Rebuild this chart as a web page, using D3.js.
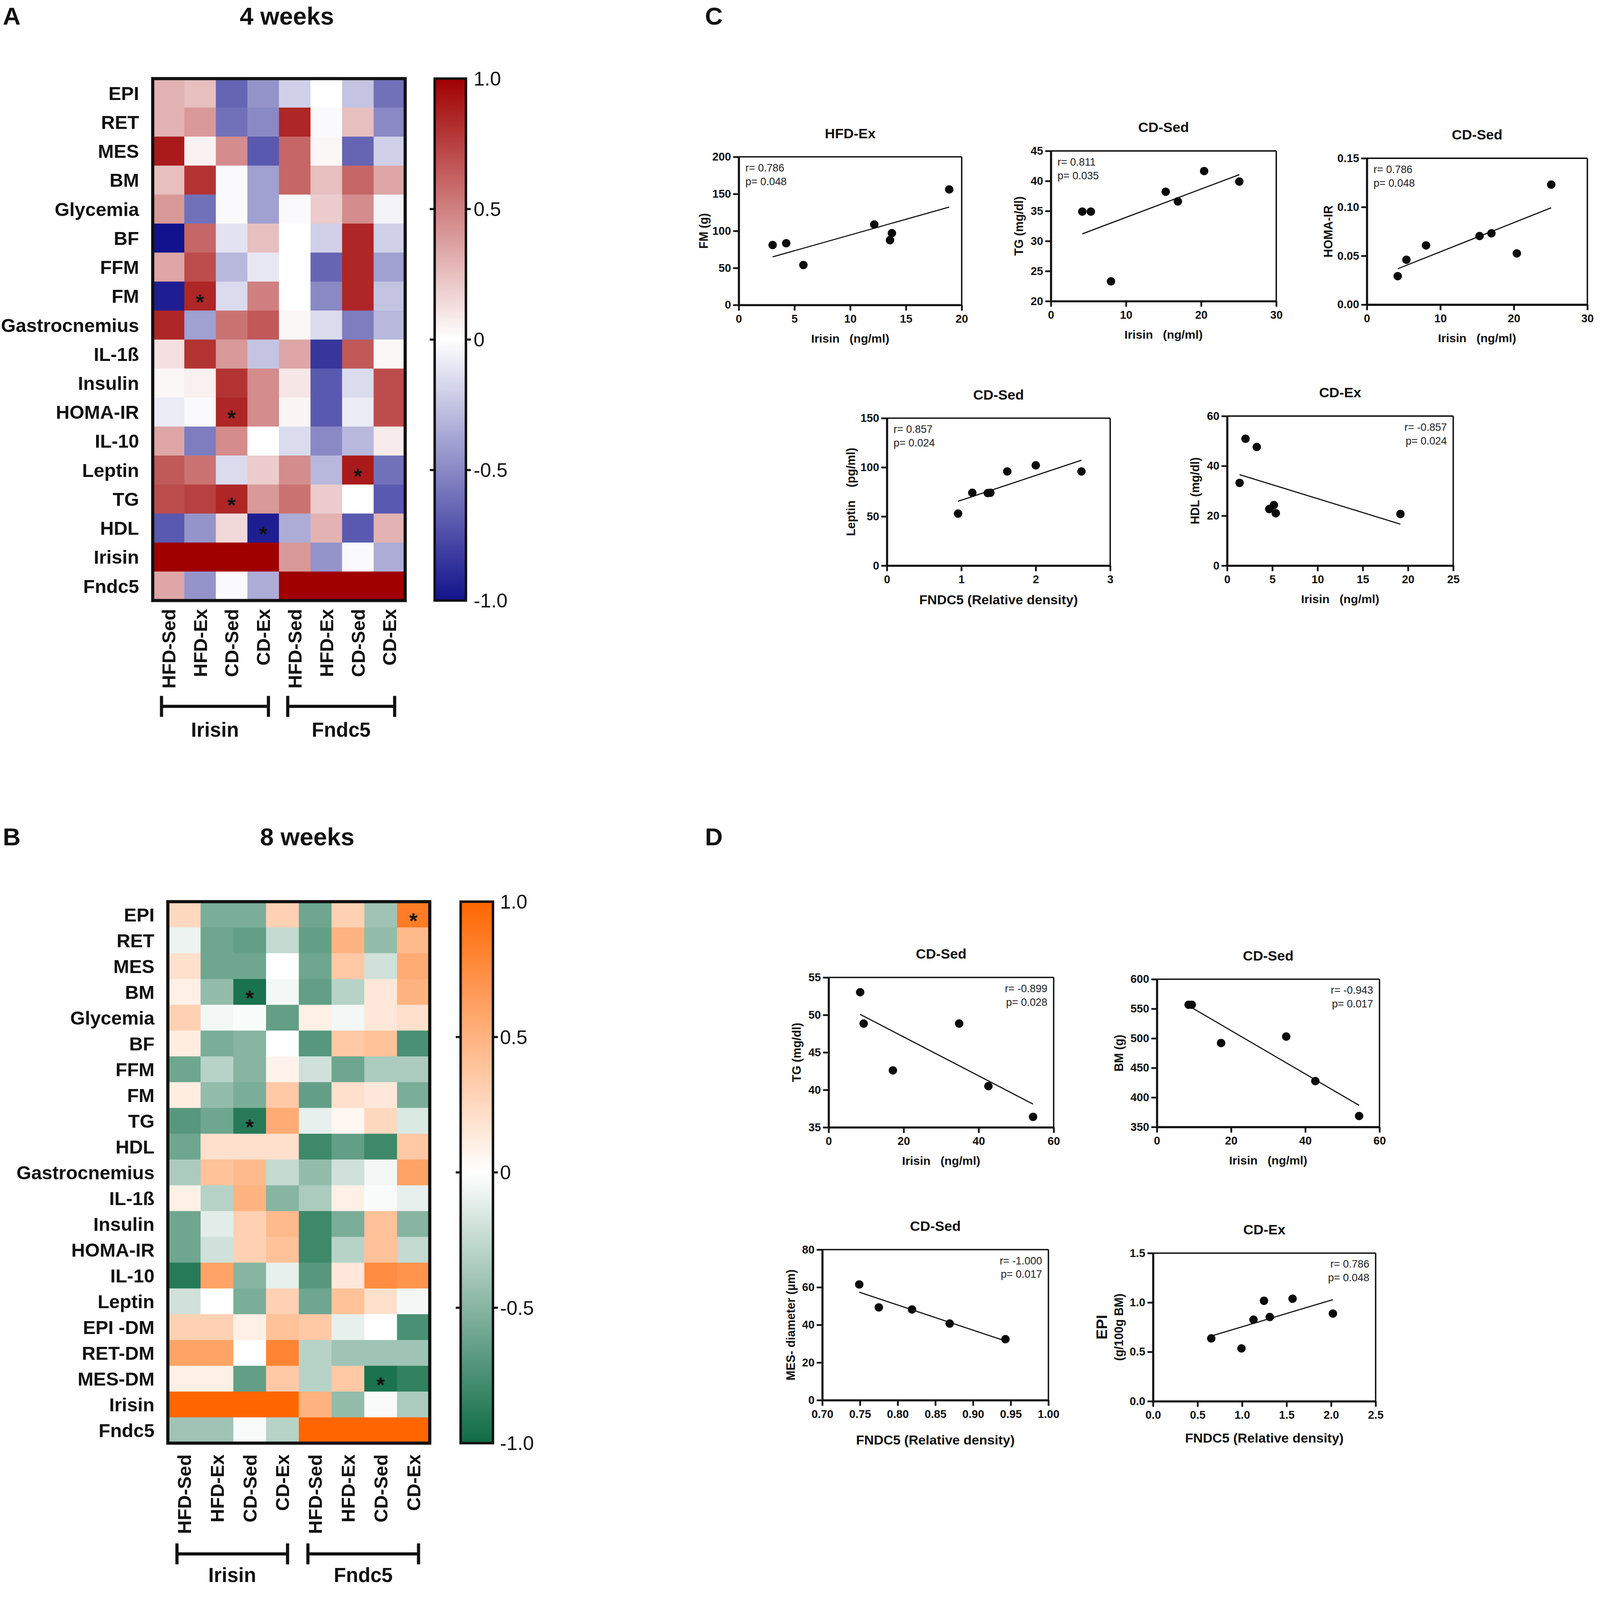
<!DOCTYPE html>
<html><head><meta charset="utf-8">
<script src="https://cdn.jsdelivr.net/npm/d3@7"></script>
<style>
html,body{margin:0;padding:0;background:#fff;overflow:hidden}
#fig{display:block;width:100vw;height:100vh}
text{font-family:"Liberation Sans",Arial,Helvetica,sans-serif}
</style></head>
<body><svg id="fig" viewBox="0 0 4557 4580" preserveAspectRatio="none" xmlns="http://www.w3.org/2000/svg"></svg>
<script>
// ================= DATA =================
const groupCols = ["HFD-Sed","HFD-Ex","CD-Sed","CD-Ex","HFD-Sed","HFD-Ex","CD-Sed","CD-Ex"];
const groupNames = ["Irisin","Fndc5"];
const colorbarTicks = [1, 0.5, 0, -0.5, -1];
const colorbarTickLabels = ["1.0","0.5","0","-0.5","-1.0"];

const weeks4Rows = ["EPI","RET","MES","BM","Glycemia","BF","FFM","FM","Gastrocnemius","IL-1ß","Insulin","HOMA-IR","IL-10","Leptin","TG","HDL","Irisin","Fndc5"];
const weeks4Values = [
  [ 0.30, 0.25,-0.65,-0.45,-0.20, 0.00,-0.25,-0.60],
  [ 0.30, 0.40,-0.60,-0.50, 0.85,-0.02, 0.25,-0.50],
  [ 0.90, 0.05, 0.45,-0.70, 0.60, 0.03,-0.65,-0.20],
  [ 0.25, 0.80,-0.02,-0.40, 0.60, 0.25, 0.60, 0.35],
  [ 0.40,-0.60,-0.02,-0.40,-0.02, 0.20, 0.45,-0.05],
  [-1.00, 0.60,-0.12, 0.25, 0.00,-0.20, 0.85,-0.20],
  [ 0.35, 0.70,-0.30,-0.10, 0.00,-0.65, 0.85,-0.40],
  [-0.95, 0.85,-0.15, 0.50, 0.00,-0.50, 0.85,-0.25],
  [ 0.85,-0.40, 0.55, 0.65, 0.03,-0.15,-0.55,-0.30],
  [ 0.12, 0.80, 0.40,-0.25, 0.35,-0.85, 0.65, 0.03],
  [ 0.03, 0.06, 0.80, 0.45, 0.10,-0.70,-0.15, 0.70],
  [-0.08,-0.02, 0.85, 0.45, 0.04,-0.70,-0.08, 0.70],
  [ 0.35,-0.55, 0.45, 0.00,-0.15,-0.50,-0.30, 0.08],
  [ 0.65, 0.55,-0.15, 0.20, 0.45,-0.30, 0.90,-0.60],
  [ 0.70, 0.75, 0.85, 0.40, 0.55, 0.20, 0.00,-0.70],
  [-0.70,-0.45, 0.15,-0.95,-0.35, 0.30,-0.70, 0.30],
  [ 1.00, 1.00, 1.00, 1.00, 0.40,-0.45,-0.02,-0.35],
  [ 0.35,-0.45,-0.02,-0.35, 1.00, 1.00, 1.00, 1.00]
];
const weeks4Stars = [[7,1],[11,2],[13,6],[14,2],[15,3]];

const weeks8Rows = ["EPI","RET","MES","BM","Glycemia","BF","FFM","FM","TG","HDL","Gastrocnemius","IL-1ß","Insulin","HOMA-IR","IL-10","Leptin","EPI -DM","RET-DM","MES-DM","Irisin","Fndc5"];
const weeks8Values = [
  [ 0.25,-0.55,-0.55, 0.30,-0.60, 0.30,-0.40, 0.85],
  [-0.08,-0.60,-0.65,-0.25,-0.65, 0.50,-0.45, 0.45],
  [ 0.20,-0.60,-0.60, 0.00,-0.60, 0.35,-0.20, 0.55],
  [ 0.10,-0.45,-0.95,-0.05,-0.65,-0.30, 0.15, 0.50],
  [ 0.30,-0.05,-0.02,-0.65, 0.10,-0.05, 0.15, 0.20],
  [ 0.12,-0.55,-0.50, 0.00,-0.70, 0.35, 0.40,-0.75],
  [-0.60,-0.30,-0.50, 0.08,-0.20,-0.60,-0.35,-0.35],
  [ 0.12,-0.45,-0.55, 0.35,-0.65, 0.20, 0.15,-0.55],
  [-0.70,-0.60,-0.90, 0.55,-0.10, 0.05, 0.25,-0.15],
  [-0.60, 0.20, 0.20, 0.20,-0.80,-0.65,-0.80, 0.35],
  [-0.35, 0.40, 0.45,-0.25,-0.45,-0.20,-0.05, 0.60],
  [ 0.10,-0.30, 0.50,-0.50,-0.35, 0.10,-0.02,-0.10],
  [-0.60,-0.12, 0.30, 0.45,-0.80,-0.55, 0.40,-0.50],
  [-0.60,-0.20, 0.30, 0.40,-0.80,-0.30, 0.40,-0.25],
  [-0.90, 0.60,-0.50,-0.10,-0.70, 0.15, 0.75, 0.70],
  [-0.20, 0.00,-0.55, 0.30,-0.60, 0.40, 0.20,-0.05],
  [ 0.30, 0.30, 0.10, 0.40, 0.35,-0.10, 0.00,-0.75],
  [ 0.60, 0.60, 0.00, 0.80,-0.30,-0.40,-0.40,-0.40],
  [ 0.10, 0.10,-0.65, 0.35,-0.30, 0.35,-0.95,-0.85],
  [ 1.00, 1.00, 1.00, 1.00, 0.50,-0.45,-0.03,-0.35],
  [-0.40,-0.40,-0.03,-0.30, 1.00, 1.00, 1.00, 1.00]
];
const weeks8Stars = [[0,7],[3,2],[8,2],[18,6]];

// scatter series (C)
const hfdExIrisin = [3.04,4.26,5.8,12.16,13.57,13.74,18.88];
const hfdExFM     = [81,83.4,54,108.7,87.5,97,156];
const cdSedIrisinTG = [4.18,5.32,8.0,15.28,16.9,20.4,25.08];
const cdSedTG       = [34.9,34.9,23.3,38.2,36.6,41.65,39.9];
const cdSedIrisinHOMA = [4.2,5.38,8.05,15.33,16.95,20.4,25.08];
const cdSedHOMA       = [0.0292,0.046,0.0607,0.0703,0.0731,0.0525,0.123];
const cdSedFndc5Leptin = [0.956,1.147,1.355,1.39,1.617,2.0,2.614];
const cdSedLeptin      = [52.9,74.1,73.8,74.1,95.8,102,95.8];
const cdExIrisinHDL = [1.38,2.03,3.28,4.66,5.17,5.38,19.16];
const cdExHDL       = [33.2,50.9,47.6,22.7,24.3,21.0,20.7];
// scatter series (D)
const cdSed8IrisinTG = [8.41,9.34,17.13,34.8,42.6,54.5];
const cdSed8TG       = [53.03,48.85,42.6,48.85,40.5,36.4];
const cdSed8IrisinBM = [8.55,9.39,17.3,34.85,42.7,54.5];
const cdSed8BM       = [556.8,556.8,492,503,427.7,368.6];
const cdSed8Fndc5MES = [0.749,0.775,0.819,0.869,0.943];
const cdSed8MES      = [61.5,49.3,48.2,40.7,32.4];
const cdEx8Fndc5EPI = [0.654,0.993,1.128,1.246,1.311,1.567,2.02];
const cdEx8EPI      = [0.636,0.535,0.826,1.017,0.853,1.038,0.888];

// ================= DRAW =================
const svg = d3.select("#fig");
svg.append("rect").attr("width",4557).attr("height",4580).attr("fill","#fff");

function label(t, x, y, size, opts={}) {
  return svg.append("text").attr("x",x).attr("y",y).text(t)
    .attr("font-size",size).attr("font-weight",opts.weight||"bold")
    .attr("text-anchor",opts.anchor||"start").attr("fill","#111");
}

function heatmap(cfg) {
  const g = svg.append("g");
  const x = d3.scaleBand().domain(d3.range(cfg.cols.length)).range([cfg.x0,cfg.x1]);
  const y = d3.scaleBand().domain(d3.range(cfg.rows.length)).range([cfg.y0,cfg.y1]);
  const color = d3.scaleLinear().domain([-1,0,1]).range(cfg.colors).clamp(true);
  cfg.values.forEach((row,ri)=>row.forEach((v,ci)=>{
    g.append("rect").attr("x",x(ci)).attr("y",y(ri))
      .attr("width",x.bandwidth()+0.8).attr("height",y.bandwidth()+0.8)
      .attr("fill",color(v));
  }));
  g.append("rect").attr("x",cfg.x0).attr("y",cfg.y0).attr("width",cfg.x1-cfg.x0).attr("height",cfg.y1-cfg.y0)
    .attr("fill","none").attr("stroke","#111").attr("stroke-width",9);
  cfg.stars.forEach(([ri,ci])=>{
    g.append("text").attr("x",x(ci)+x.bandwidth()/2).attr("y",y(ri)+y.bandwidth()/2+0.62*62)
      .attr("text-anchor","middle").attr("font-size",62).attr("font-weight","bold").attr("fill","#111").text("*");
  });
  cfg.rows.forEach((r,ri)=>{
    g.append("text").attr("x",cfg.rowLabelX).attr("y",y(ri)+y.bandwidth()/2).attr("dy","0.36em")
      .attr("text-anchor","end").attr("font-size",54).attr("font-weight","bold").attr("fill","#111").text(r);
  });
  cfg.cols.forEach((c,ci)=>{
    const cx = x(ci)+x.bandwidth()/2;
    g.append("text").attr("transform",`translate(${cx},${cfg.colLabelTop}) rotate(-90)`)
      .attr("dy","0.36em").attr("text-anchor","end").attr("font-size",54).attr("font-weight","bold")
      .attr("fill","#111").text(c);
  });
  const bw = x.bandwidth();
  groupNames.forEach((name,gi)=>{
    const a = x(gi*4) + cfg.bracketInL, b = x(gi*4+3) + bw - cfg.bracketInR;
    g.append("line").attr("x1",a).attr("x2",b).attr("y1",cfg.bracketY).attr("y2",cfg.bracketY).attr("stroke","#111").attr("stroke-width",9);
    [a,b].forEach(p=>g.append("line").attr("x1",p).attr("x2",p).attr("y1",cfg.bracketY-30).attr("y2",cfg.bracketY+30).attr("stroke","#111").attr("stroke-width",9));
    g.append("text").attr("x",(a+b)/2).attr("y",cfg.groupLabelY).attr("dy","0.36em").attr("text-anchor","middle")
      .attr("font-size",57).attr("font-weight","bold").attr("fill","#111").text(name);
  });
  const gid = "grad"+cfg.id;
  const grad = svg.append("defs").append("linearGradient").attr("id",gid).attr("x1",0).attr("x2",0).attr("y1",0).attr("y2",1);
  d3.range(0,1.0001,0.05).forEach(t=>{
    grad.append("stop").attr("offset",t).attr("stop-color",color(1-2*t));
  });
  const cy = d3.scaleLinear().domain([-1,1]).range([cfg.y1,cfg.y0]);
  g.append("rect").attr("x",cfg.cbx0).attr("y",cfg.y0).attr("width",cfg.cbx1-cfg.cbx0).attr("height",cfg.y1-cfg.y0)
    .attr("fill",`url(#${gid})`).attr("stroke","#111").attr("stroke-width",7);
  colorbarTicks.forEach((t,i)=>{
    if (Math.abs(t)<1) {
      g.append("line").attr("x1",cfg.cbx0-14).attr("x2",cfg.cbx0+3).attr("y1",cy(t)).attr("y2",cy(t)).attr("stroke","#111").attr("stroke-width",6);
      g.append("line").attr("x1",cfg.cbx1-3).attr("x2",cfg.cbx1+14).attr("y1",cy(t)).attr("y2",cy(t)).attr("stroke","#111").attr("stroke-width",6);
    }
    g.append("text").attr("x",cfg.cbx1+cfg.cbLabelGap).attr("y",cy(t)).attr("dy","0.36em").attr("font-size",56)
      .attr("fill","#111").text(colorbarTickLabels[i]);
  });
}

label("A", 8, 70, 70);
label("4 weeks", 817, 70, 70, {anchor:"middle"});
heatmap({id:"A", rows:weeks4Rows, cols:groupCols, values:weeks4Values, stars:weeks4Stars,
  colors:["#12128c","#ffffff","#a00000"],
  x0:435, x1:1154, y0:225, y1:1719, rowLabelX:396, colLabelTop:1743,
  bracketY:2022, groupLabelY:2088, bracketInL:25, bracketInR:30,
  cbx0:1238, cbx1:1327, cbLabelGap:22});

label("B", 8, 2420, 70);
label("8 weeks", 875, 2420, 70, {anchor:"middle"});
heatmap({id:"B", rows:weeks8Rows, cols:groupCols, values:weeks8Values, stars:weeks8Stars,
  colors:["#0e6b45","#ffffff","#ff6600"],
  x0:478, x1:1224, y0:2581, y1:4131, rowLabelX:440, colLabelTop:4163,
  bracketY:4448, groupLabelY:4508, bracketInL:26, bracketInR:32,
  cbx0:1312, cbx1:1404, cbLabelGap:20});

label("C", 2008, 70, 70);
label("D", 2008, 2420, 70);

function fitLine(xs, ys) {
  const mx = d3.mean(xs), my = d3.mean(ys);
  const sxy = d3.sum(xs,(v,i)=>(v-mx)*(ys[i]-my));
  const sxx = d3.sum(xs,v=>(v-mx)*(v-mx));
  const b = sxy/sxx, a = my - b*mx;
  const x0 = d3.min(xs), x1 = d3.max(xs);
  return [[x0,a+b*x0],[x1,a+b*x1]];
}

function scatter(c) {
  const g = svg.append("g");
  const x = d3.scaleLinear().domain(c.xDomain).range([c.l,c.r]);
  const y = d3.scaleLinear().domain(c.yDomain).range([c.b,c.t]);
  g.append("line").attr("x1",c.l).attr("x2",c.r).attr("y1",c.t).attr("y2",c.t).attr("stroke","#111").attr("stroke-width",4);
  g.append("line").attr("x1",c.r).attr("x2",c.r).attr("y1",c.t).attr("y2",c.b).attr("stroke","#111").attr("stroke-width",4);
  const xa = g.append("g").attr("transform",`translate(0,${c.b})`)
    .call(d3.axisBottom(x).tickValues(c.xTicks).tickFormat(d3.format(c.xFmt||"d")).tickSize(16).tickSizeOuter(0).tickPadding(12));
  const ya = g.append("g").attr("transform",`translate(${c.l},0)`)
    .call(d3.axisLeft(y).tickValues(c.yTicks).tickFormat(d3.format(c.yFmt||"d")).tickSize(16).tickSizeOuter(0).tickPadding(6));
  [xa,ya].forEach(a=>{
    a.attr("font-size",null).attr("font-family",null);
    a.select(".domain").attr("stroke","#111").attr("stroke-width",6);
    a.selectAll(".tick line").attr("stroke","#111").attr("stroke-width",5);
    a.selectAll(".tick text").attr("font-size",c.tickSize||32).attr("font-weight","bold").attr("fill","#111");
  });
  const [p0,p1] = fitLine(c.xs,c.ys);
  g.append("line").attr("x1",x(p0[0])).attr("y1",y(p0[1])).attr("x2",x(p1[0])).attr("y2",y(p1[1]))
    .attr("stroke","#111").attr("stroke-width",3.2);
  g.selectAll("circle.d").data(c.xs.map((v,i)=>[v,c.ys[i]])).enter().append("circle")
    .attr("cx",d=>x(d[0])).attr("cy",d=>y(d[1])).attr("r",12).attr("fill","#0a0a0a");
  g.append("text").attr("x",(c.l+c.r)/2).attr("y",c.t-68).attr("dy","0.36em").attr("text-anchor","middle")
    .attr("font-size",40).attr("font-weight","bold").attr("fill","#111").text(c.title);
  g.append("text").attr("x",(c.l+c.r)/2).attr("y",c.b+(c.xlOff||95)).attr("dy","0.36em").attr("text-anchor","middle")
    .attr("font-size",c.xlSize||34).attr("font-weight","bold").attr("fill","#111")
    .style("white-space","pre").text(c.xLabel);
  c.yLabels.forEach(yl=>{
    g.append("text").attr("transform",`translate(${c.l-yl.off},${(c.t+c.b)/2}) rotate(-90)`).attr("dy","0.36em")
      .attr("text-anchor","middle").attr("font-size",yl.size||34).attr("font-weight","bold").attr("fill","#111")
      .style("white-space","pre").text(yl.text);
  });
  const right = c.statPos==="right";
  const sx = right ? c.r-18 : c.l+19;
  c.stats.forEach((s,i)=>{
    g.append("text").attr("x",sx).attr("y",c.t+42+i*39).attr("text-anchor",right?"end":"start")
      .attr("font-size",30).attr("fill","#222").text(s);
  });
}

const irisinLabel = "Irisin   (ng/ml)";
const fndcLabel = "FNDC5 (Relative density)";

scatter({l:2104,r:2739,t:449,b:873, xDomain:[0,20], yDomain:[0,200], xTicks:[0,5,10,15,20], yTicks:[0,50,100,150,200],
  xs:hfdExIrisin, ys:hfdExFM, title:"HFD-Ex", xLabel:irisinLabel, yLabels:[{text:"FM (g)",off:100}],
  stats:["r= 0.786","p= 0.048"], statPos:"left"});
scatter({l:2993,r:3635,t:432,b:862, xDomain:[0,30], yDomain:[20,45], xTicks:[0,10,20,30], yTicks:[20,25,30,35,40,45],
  xs:cdSedIrisinTG, ys:cdSedTG, title:"CD-Sed", xLabel:irisinLabel, yLabels:[{text:"TG (mg/dl)",off:92}],
  stats:["r= 0.811","p= 0.035"], statPos:"left"});
scatter({l:3893,r:4521,t:453,b:872, xDomain:[0,30], yDomain:[0,0.15], xTicks:[0,10,20,30], yTicks:[0,0.05,0.10,0.15], yFmt:".2f",
  xs:cdSedIrisinHOMA, ys:cdSedHOMA, title:"CD-Sed", xLabel:irisinLabel, yLabels:[{text:"HOMA-IR",off:110}],
  stats:["r= 0.786","p= 0.048"], statPos:"left"});
scatter({l:2526,r:3162,t:1197,b:1619, xDomain:[0,3], yDomain:[0,150], xTicks:[0,1,2,3], yTicks:[0,50,100,150],
  xs:cdSedFndc5Leptin, ys:cdSedLeptin, title:"CD-Sed", xLabel:fndcLabel, xlOff:97, xlSize:38,
  yLabels:[{text:"Leptin    (pg/ml)",off:103}], stats:["r= 0.857","p= 0.024"], statPos:"left"});
scatter({l:3495,r:4139,t:1191,b:1619, xDomain:[0,25], yDomain:[0,60], xTicks:[0,5,10,15,20,25], yTicks:[0,20,40,60],
  xs:cdExIrisinHDL, ys:cdExHDL, title:"CD-Ex", xLabel:irisinLabel, yLabels:[{text:"HDL (mg/dl)",off:92}],
  stats:["r= -0.857","p= 0.024"], statPos:"right"});

scatter({l:2360,r:3001,t:2798,b:3227, xDomain:[0,60], yDomain:[35,55], xTicks:[0,20,40,60], yTicks:[35,40,45,50,55],
  xs:cdSed8IrisinTG, ys:cdSed8TG, title:"CD-Sed", xLabel:irisinLabel, yLabels:[{text:"TG (mg/dl)",off:92}],
  stats:["r= -0.899","p= 0.028"], statPos:"right"});
scatter({l:3295,r:3929,t:2803,b:3226, xDomain:[0,60], yDomain:[350,600], xTicks:[0,20,40,60], yTicks:[350,400,450,500,550,600],
  xs:cdSed8IrisinBM, ys:cdSed8BM, title:"CD-Sed", xLabel:irisinLabel, yLabels:[{text:"BM (g)",off:109}],
  stats:["r= -0.943","p= 0.017"], statPos:"right"});
scatter({l:2342,r:2986,t:3577,b:4008, xDomain:[0.70,1.00], yDomain:[0,80], xTicks:[0.70,0.75,0.80,0.85,0.90,0.95,1.00], xFmt:".2f", yTicks:[0,20,40,60,80],
  xs:cdSed8Fndc5MES, ys:cdSed8MES, title:"CD-Sed", xLabel:fndcLabel, xlOff:113, xlSize:38,
  yLabels:[{text:"MES- diameter (µm)",off:90}], stats:["r= -1.000","p= 0.017"], statPos:"right"});
scatter({l:3284,r:3918,t:3587,b:4011, xDomain:[0,2.5], yDomain:[0,1.5], xTicks:[0,0.5,1.0,1.5,2.0,2.5], xFmt:".1f", yTicks:[0,0.5,1.0,1.5], yFmt:".1f",
  xs:cdEx8Fndc5EPI, ys:cdEx8EPI, title:"CD-Ex", xLabel:fndcLabel, xlOff:105, xlSize:38,
  yLabels:[{text:"EPI",off:147,size:44},{text:"(g/100g BM)",off:98,size:34}], stats:["r= 0.786","p= 0.048"], statPos:"right"});
</script></body></html>
